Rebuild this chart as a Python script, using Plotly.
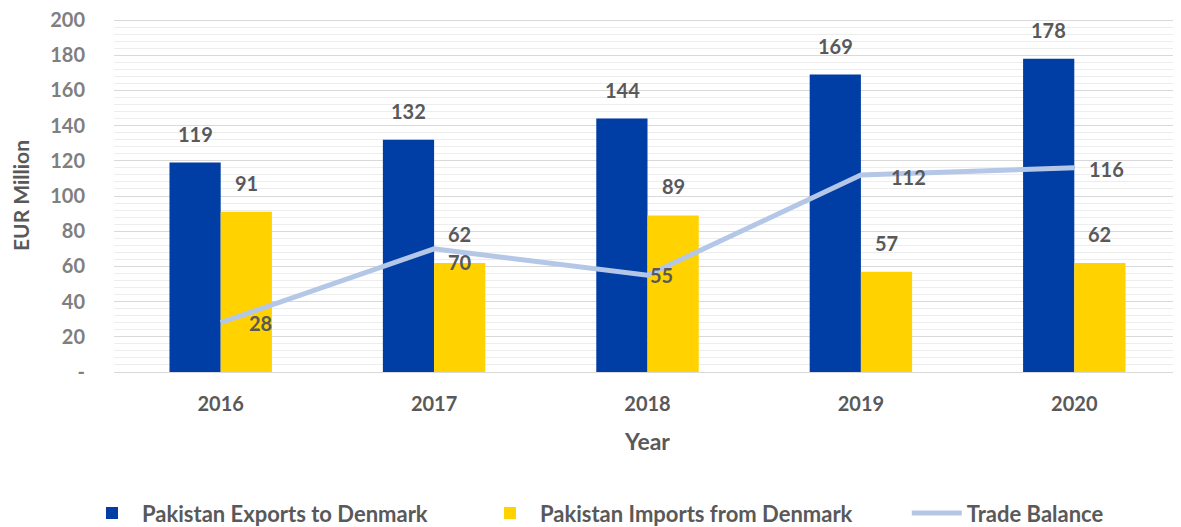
import plotly.graph_objects as go

years = ["2016", "2017", "2018", "2019", "2020"]
exports = [119, 132, 144, 169, 178]
imports = [91, 62, 89, 57, 62]
balance = [28, 70, 55, 112, 116]
y_ticks = [0, 20, 40, 60, 80, 100, 120, 140, 160, 180, 200]
y_tick_text = ["-", "20", "40", "60", "80", "100", "120", "140", "160", "180", "200"]

BLUE = "#003DA5"
YELLOW = "#FFD200"
LINE = "#B4C7E7"
TXT = "#595959"
FONT = "Lato"

fig = go.Figure()
fig.add_trace(go.Bar(x=years, y=exports, name="Pakistan Exports to Denmark",
                     marker=dict(color=BLUE, line=dict(width=0)), offsetgroup="a",
                     legend="legend"))
fig.add_trace(go.Bar(x=years, y=imports, name="Pakistan Imports from Denmark",
                     marker=dict(color=YELLOW, line=dict(width=0)), offsetgroup="b",
                     legend="legend2"))
fig.add_trace(go.Scatter(x=years, y=balance, name="Trade Balance", mode="lines",
                         line=dict(color=LINE, width=5), legend="legend3"))

lab_font = dict(family=FONT, size=20, color=TXT)
anns = []
for i in range(len(years)):
    anns.append(dict(x=i, y=exports[i], text=f"<b>{exports[i]}</b>", showarrow=False,
                     xshift=-25.5, yshift=15, yanchor="bottom", font=lab_font))
    anns.append(dict(x=i, y=imports[i], text=f"<b>{imports[i]}</b>", showarrow=False,
                     xshift=25.5, yshift=15, yanchor="bottom", font=lab_font))
bal_dx = [40, 26, 14, 48, 32]
bal_dy = [0, -13, 0, -2, -1]
for i in range(len(years)):
    anns.append(dict(x=i, y=balance[i], text=f"<b>{balance[i]}</b>", showarrow=False,
                     xshift=bal_dx[i], yshift=bal_dy[i], xanchor="center", yanchor="middle",
                     font=lab_font))

leg_common = dict(orientation="h", yanchor="middle", y=-0.40, xanchor="left",
                  font=dict(family=FONT, size=22, color=TXT, weight="bold"),
                  itemwidth=50, bgcolor="rgba(0,0,0,0)")
# page body has an 8px margin, so the figure is drawn 8px right and down
fig.update_layout(
    width=1173, height=519,
    margin=dict(l=106, r=0, t=11, b=155, autoexpand=False),
    paper_bgcolor="white", plot_bgcolor="white",
    barmode="group", bargap=0.52, bargroupgap=0,
    font=dict(family=FONT, color=TXT),
    annotations=anns,
    showlegend=True,
    legend=dict(x=-0.030, **leg_common),
    legend2=dict(x=0.343, **leg_common),
    legend3=dict(x=0.743, **leg_common),
)
fig.update_xaxes(
    type="category", range=[-0.5, 4.5], automargin=False,
    tickfont=dict(family=FONT, size=20, color=TXT, weight="bold"),
    ticks="", showline=True, linecolor="#D9D9D9", linewidth=1, ticklabelstandoff=14,
    title=dict(text="<b>Year</b>", font=dict(family=FONT, size=23, color=TXT), standoff=19),
)
fig.update_yaxes(
    range=[0, 200.6], tickvals=y_ticks, ticktext=y_tick_text, automargin=False,
    ticklabeloverflow="allow",
    tickfont=dict(family=FONT, size=20, color="#7F7F7F", weight="bold"),
    showgrid=True, gridcolor="#D9D9D9", gridwidth=1.3,
    minor=dict(dtick=4, tick0=0, showgrid=True, gridcolor="#EDEDED", gridwidth=1.3),
    zeroline=False, ticks="", ticklabelstandoff=28,
    title=dict(text="<b>EUR Million</b>", font=dict(family=FONT, size=21, color=TXT), standoff=16),
)

fig.write_html("out.html")
